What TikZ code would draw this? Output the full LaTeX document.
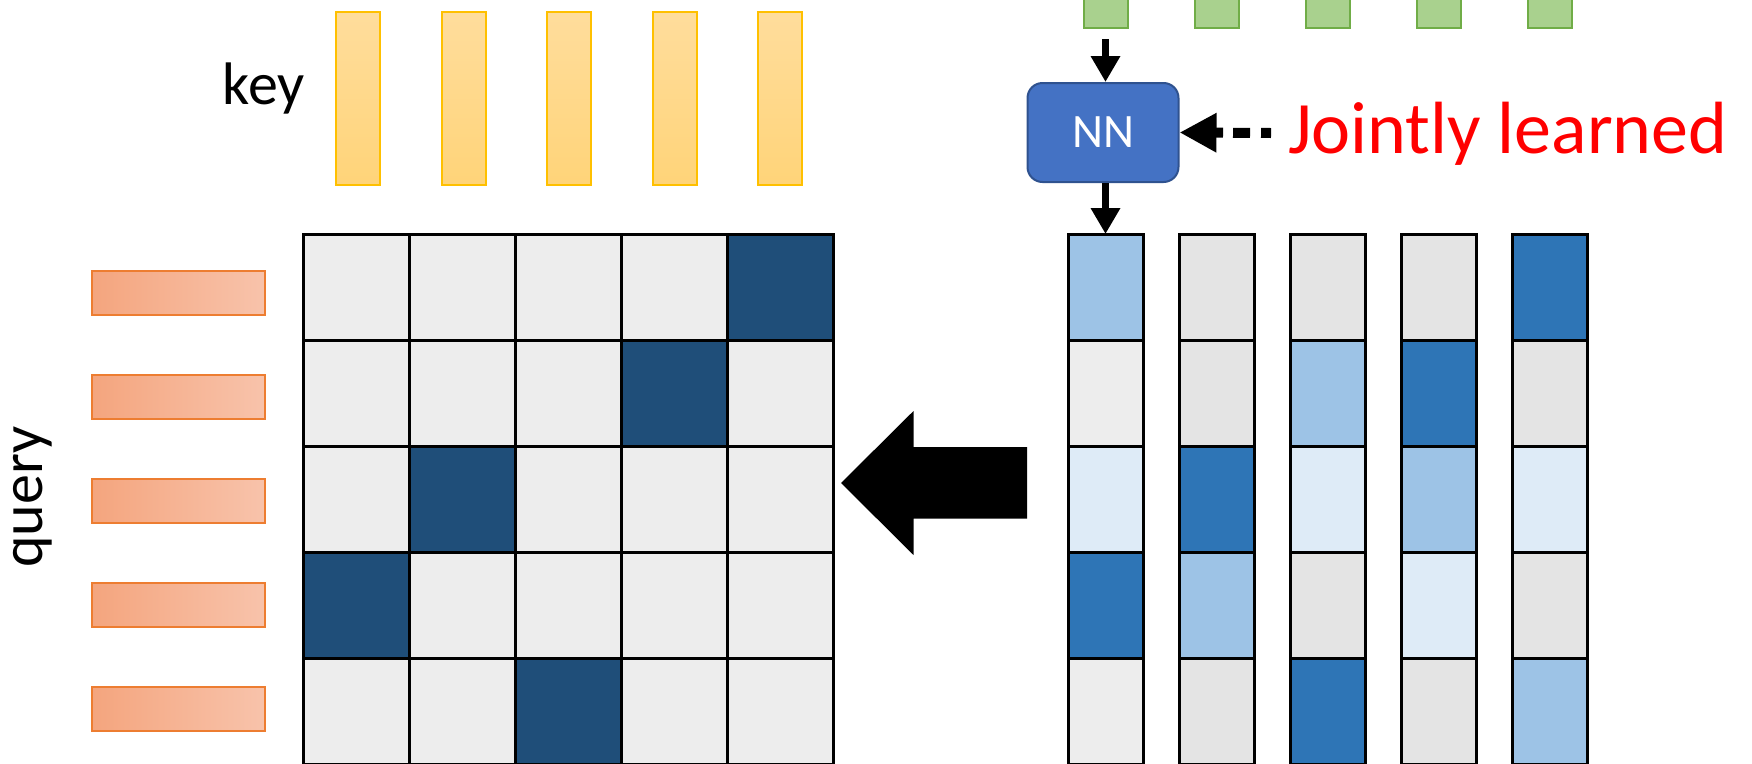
\documentclass[tikz,border=0pt]{standalone}
\usepackage{fontspec}
\setmainfont{Carlito}
\usetikzlibrary{arrows.meta}
\definecolor{gridgray}{HTML}{EDEDED}
\definecolor{colgray}{HTML}{E4E4E4}
\definecolor{darkblue}{HTML}{1F4E79}
\definecolor{midblue}{HTML}{2E75B6}
\definecolor{lightblue}{HTML}{9DC3E6}
\definecolor{paleblue}{HTML}{DEEBF7}
\definecolor{keytop}{HTML}{FFDD9C}
\definecolor{keybot}{HTML}{FFD479}
\definecolor{keyline}{HTML}{FFC000}
\definecolor{qleft}{HTML}{F4A57E}
\definecolor{qright}{HTML}{F8C3AB}
\definecolor{qline}{HTML}{ED7D31}
\definecolor{greenfill}{HTML}{A9D18E}
\definecolor{greenline}{HTML}{70AD47}
\definecolor{nnfill}{HTML}{4472C4}
\definecolor{nnline}{HTML}{2F528F}
\begin{document}
\begin{tikzpicture}[x=1pt,y=-1pt,
 gcell/.style={draw=black,line width=3pt,minimum width=106pt,minimum height=106pt,inner sep=0pt,outer sep=0pt,fill=#1},
 ccell/.style={draw=black,line width=3pt,minimum width=75pt,minimum height=106pt,inner sep=0pt,outer sep=0pt,fill=#1},
 keybar/.style={draw=keyline,line width=2pt,top color=keytop,bottom color=keybot,minimum width=44pt,minimum height=173pt,inner sep=0pt},
 querybar/.style={draw=qline,line width=2pt,left color=qleft,right color=qright,minimum width=173pt,minimum height=44pt,inner sep=0pt},
 greenbox/.style={draw=greenline,line width=2pt,fill=greenfill,minimum size=44pt,inner sep=0pt},
 flow/.style={line width=7pt,-{Triangle[length=26pt,width=28pt]}},
 lbl/.style={inner sep=0pt,font=\fontsize{60}{72}\selectfont}
]
\useasboundingbox (0,0) rectangle (1752,763);

% key bars
\foreach \c in {0,...,4}{
  \node[keybar] (k\c) at ({358+105.5*\c},98.5) {};
}
\node[lbl,anchor=base east] (key) at (305,104) {key};

% query bars
\foreach \r in {0,...,4}{
  \node[querybar] (q\r) at (178.5,{293+104.1*\r}) {};
}
\node[lbl,rotate=90,anchor=base] (query) at (42,497) {query};

% attention grid
\foreach \r/\d in {0/4,1/3,2/1,3/0,4/2}{
  \foreach \c in {0,...,4}{
    \ifnum\c=\d \def\cc{darkblue}\else\def\cc{gridgray}\fi
    \node[gcell=\cc] (g\r\c) at ({356+106*\c},{287+106*\r}) {};
  }
}

% score columns
\foreach \c/\x/\cols in {1/1105.5/{lightblue,gridgray,paleblue,midblue,gridgray},
                         2/1217/{colgray,colgray,midblue,lightblue,colgray},
                         3/1328/{colgray,lightblue,paleblue,colgray,midblue},
                         4/1438.5/{colgray,midblue,lightblue,paleblue,colgray},
                         5/1549.5/{midblue,colgray,paleblue,colgray,lightblue}}{
  \foreach \col [count=\r] in \cols{
    \node[ccell=\col] (c\c r\r) at (\x,{287+106*(\r-1)}) {};
  }
}

% green inputs
\foreach \c/\x in {1/1105.5,2/1217,3/1328,4/1438.5,5/1549.5}{
  \node[greenbox] (s\c) at (\x,6) {};
}

% NN
\node[draw=nnline,line width=2pt,fill=nnfill,rounded corners=15pt,
      minimum width=151pt,minimum height=99pt,inner sep=0pt,text=white,
      font=\fontsize{48}{56}\selectfont] (NN) at (1103,132.5) {NN};

\draw[flow,shorten <=10pt] (s1.south) -- (s1.south |- NN.north);
\draw[flow] (c1r1.north |- NN.south) -- (c1r1.north);

% jointly learned
\node[anchor=base west,inner sep=0pt,text=red,font=\fontsize{74}{88}\selectfont] (jl) at (1288,153) {Jointly learned};
\coordinate (jlin) at (1271,133);
\draw[line width=10pt,dash pattern=on 10pt off 11pt on 17pt off 10pt on 200pt,
      -{Triangle[length=37pt,width=37pt]}] (jlin) -- (NN.east);

% big arrow
\fill[black] (841,483) -- (913.5,411) -- (913.5,447) -- (1027,447) -- (1027,518.5)
   -- (913.5,518.5) -- (913.5,555) -- cycle;
\end{tikzpicture}
\end{document}
